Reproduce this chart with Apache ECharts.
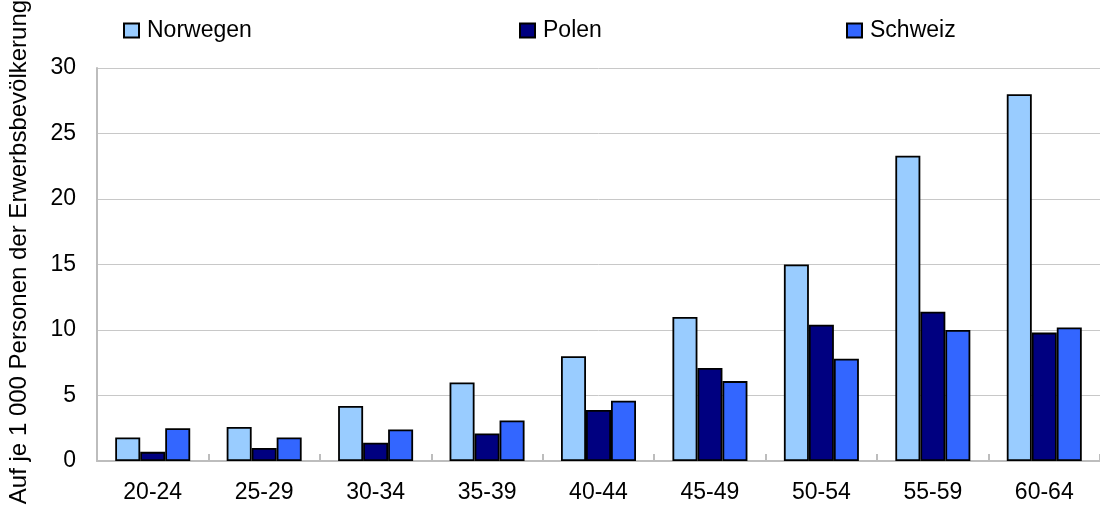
<!DOCTYPE html>
<html>
<head>
<meta charset="utf-8">
<script src="https://cdn.jsdelivr.net/npm/echarts@6/dist/echarts.min.js"></script>
<style>
  html, body { margin: 0; padding: 0; background: #ffffff; }
  #chart { width: 1100px; height: 507px; }
</style>
</head>
<body>
<div id="chart"></div>
<script>
// Age groups on the category axis
const ageGroups = ['20-24', '25-29', '30-34', '35-39', '40-44', '45-49', '50-54', '55-59', '60-64'];

// Cases per 1 000 persons of the labour force
const norwegen = [1.8, 2.6, 4.2, 6.0, 8.0, 11.0, 15.0, 23.3, 28.0];
const polen    = [0.7, 1.0, 1.4, 2.1, 3.9, 7.1, 10.4, 11.4, 9.8];
const schweiz  = [2.5, 1.8, 2.4, 3.1, 4.6, 6.1, 7.8, 10.0, 10.2];

const seriesNames = ['Norwegen', 'Polen', 'Schweiz'];
const yTitle = 'Auf je 1 000 Personen der Erwerbsbevölkerung';

const FONT = '"Liberation Sans", Arial, Helvetica, sans-serif';
const colors = ['#99CCFF', '#000080', '#3366FF'];

const chart = echarts.init(document.getElementById('chart'), null, { renderer: 'canvas' });

// One legend per item so each entry sits at its own column
function legendAt(name, left) {
  return {
    data: [name],
    left: left,
    top: 14,
    icon: 'rect',
    itemWidth: 15,
    itemHeight: 14,
    itemGap: 0,
    selectedMode: false,
    textStyle: { fontFamily: FONT, fontSize: 23, color: '#000', padding: [0, 0, 0, 3] }
  };
}

function barSeries(name, data, color) {
  return {
    name: name,
    type: 'bar',
    data: data,
    barWidth: 25,
    barGap: '0%',
    itemStyle: { color: color, borderColor: '#000', borderWidth: 1.8 }
  };
}

chart.setOption({
  animation: false,
  backgroundColor: '#ffffff',
  textStyle: { fontFamily: FONT },
  legend: [
    legendAt(seriesNames[0], 118),
    legendAt(seriesNames[1], 514),
    legendAt(seriesNames[2], 841)
  ],
  grid: { left: 97, right: -12, top: 68, bottom: 46, containLabel: false },
  xAxis: {
    type: 'category',
    data: ageGroups,
    axisLine: { lineStyle: { color: '#bdbdbd', width: 2 } },
    axisTick: { show: true, inside: true, length: 7, lineStyle: { color: '#bdbdbd', width: 2 } },
    axisLabel: { fontFamily: FONT, fontSize: 23, color: '#000', margin: 20 }
  },
  yAxis: {
    type: 'value',
    min: 0,
    max: 30,
    interval: 5,
    axisLine: { show: true, lineStyle: { color: '#bdbdbd', width: 2 } },
    axisTick: { show: false },
    splitLine: { lineStyle: { color: '#c8c8c8', width: 1 } },
    axisLabel: { fontFamily: FONT, fontSize: 23, color: '#000', margin: 21 }
  },
  graphic: [{
    type: 'text',
    x: 19,
    y: 252,
    rotation: Math.PI / 2,
    style: {
      text: yTitle,
      fontFamily: FONT,
      fontSize: 24,
      fill: '#000',
      align: 'center',
      verticalAlign: 'middle'
    }
  }],
  series: [
    barSeries(seriesNames[0], norwegen, colors[0]),
    barSeries(seriesNames[1], polen, colors[1]),
    barSeries(seriesNames[2], schweiz, colors[2])
  ]
});
</script>
</body>
</html>
